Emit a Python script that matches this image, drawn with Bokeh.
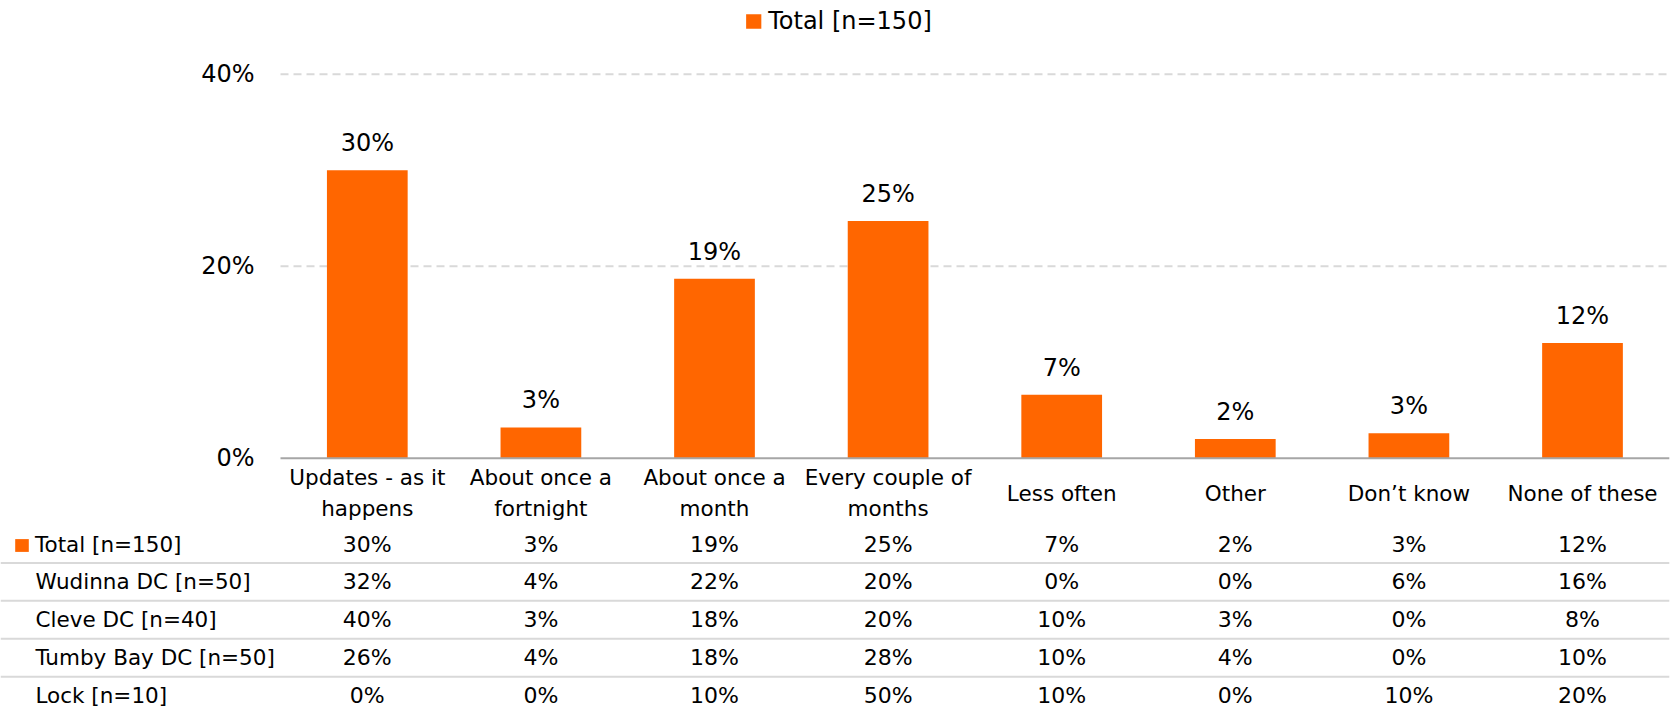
import numpy as np
from bokeh.plotting import figure
from bokeh.models import Range1d, ColumnDataSource, Legend, LegendItem
from bokeh.core.properties import value
from bokeh.embed import file_html
from bokeh.resources import INLINE

# ---------------- data ----------------
categories = ["Updates - as it happens", "About once a fortnight", "About once a month",
              "Every couple of months", "Less often", "Other", "Don’t know", "None of these"]
category_labels = ["Updates - as it\nhappens", "About once a\nfortnight", "About once a\nmonth",
                   "Every couple of\nmonths", "Less often", "Other", "Don’t know", "None of these"]
total_values = [30.0, 3.2, 18.7, 24.7, 6.6, 2.0, 2.6, 12.0]
series_names = ["Total [n=150]", "Wudinna DC [n=50]", "Cleve DC [n=40]",
                "Tumby Bay DC [n=50]", "Lock [n=10]"]
wudinna = [32, 4, 22, 20, 0, 0, 6, 16]
cleve = [40, 3, 18, 20, 10, 3, 0, 8]
tumby = [26, 4, 18, 28, 10, 4, 0, 10]
lock = [0, 0, 10, 50, 10, 0, 10, 20]
y_ticks = [0, 20, 40]
y_tick_labels = ["0%", "20%", "40%"]

# ---------------- layout ----------------
W, H = 1675, 709
CAT_PX = 173.6          # width of one category slot in px
LEFT_PX = 280           # plot area left offset inside the figure
X_START = -LEFT_PX / CAT_PX
X_END = X_START + W / CAT_PX
ZERO_PX = 457.7         # y of the 0% baseline inside the figure
PCT_PX = 9.6            # px per percentage point
Y_END = ZERO_PX / PCT_PX
Y_START = -(H - ZERO_PX) / PCT_PX
ROW0_PX = 543.5         # y of first table row
ROW_PX = 37.9           # table row pitch
TBL_START = (H - ROW0_PX) / ROW_PX
TBL_END = -ROW0_PX / ROW_PX

FONT_NAME = "DejaVu Sans"
FONT = value(FONT_NAME)
ORANGE = "#FF6600"
TXT = "#000000"

p = figure(width=W, height=H, x_range=Range1d(X_START, X_END), y_range=Range1d(Y_START, Y_END),
           x_axis_type=None, y_axis_type=None, output_backend="svg", toolbar_location=None,
           min_border=0, min_border_left=0, min_border_right=0, min_border_top=0, min_border_bottom=0)
p.outline_line_color = None
p.background_fill_color = "white"
p.border_fill_color = "white"
p.extra_y_ranges = {"tbl": Range1d(TBL_START, TBL_END)}

n = len(categories)
xs = np.arange(n) + 0.5
src = ColumnDataSource(dict(x=xs, top=total_values,
                            label=[f"{v:.0f}%" for v in total_values],
                            cat_label=category_labels))

# gridlines (dashed) at 20% and 40%
p.segment(x0=0, x1=n, y0=y_ticks[1:], y1=y_ticks[1:], line_color="#d9d9d9",
          line_width=2, line_dash="8 5")

bars = p.vbar(x="x", top="top", bottom=0, width=0.465, source=src,
              fill_color=ORANGE, line_color=None)

# baseline
p.segment(x0=0, x1=n, y0=0, y1=0, line_color="#a6a6a6", line_width=2)

# y tick labels
p.text(x=0, y=y_ticks, text=y_tick_labels, x_offset=-26, text_align="right",
       text_baseline="middle", text_font=FONT, text_font_size="24px", text_color=TXT)

# data labels
p.text(x="x", y="top", text="label", source=src, y_offset=-27, text_align="center",
       text_baseline="middle", text_font=FONT, text_font_size="24px", text_color=TXT)

# category labels
p.text(x="x", y=0, text="cat_label", source=src, y_offset=35, text_align="center",
       text_baseline="middle", text_font=FONT, text_font_size="21.5px", text_color=TXT,
       text_line_height=1.22)

# ---------------- table ----------------
rows = [[round(v) for v in total_values], wudinna, cleve, tumby, lock]
tx, ty, tt = [], [], []
for r, row in enumerate(rows):
    for i, v in enumerate(row):
        tx.append(xs[i])
        ty.append(r)
        tt.append(f"{v}%")
p.text(x=tx, y=ty, text=tt, y_range_name="tbl", text_align="center", text_baseline="middle",
       text_font=FONT, text_font_size="22px", text_color=TXT)

# row labels (first row is drawn by the legend key)
row_idx = list(range(1, len(series_names)))
p.text(x=X_START, y=row_idx, text=series_names[1:], x_offset=35, y_range_name="tbl",
       text_align="left", text_baseline="middle", text_font=FONT, text_font_size="21.5px",
       text_color=TXT)

# row separators
sep = [r + 0.5 for r in range(len(series_names) - 1)]
p.segment(x0=X_START, x1=n, y0=sep, y1=sep, y_range_name="tbl",
          line_color="#d9d9d9", line_width=2)

# ---------------- legends ----------------
top_legend = Legend(items=[LegendItem(label=series_names[0], renderers=[bars])],
                    location="top_center", orientation="horizontal",
                    label_text_font=FONT_NAME, label_text_font_size="24px", label_text_color=TXT,
                    glyph_width=19, glyph_height=18, label_standoff=6,
                    padding=0, margin=7, border_line_color=None, background_fill_alpha=0)
p.add_layout(top_legend)

tbl_legend = Legend(items=[LegendItem(label=series_names[0], renderers=[bars])],
                    location=(13, H - ROW0_PX - 13.5), orientation="horizontal",
                    label_text_font=FONT_NAME, label_text_font_size="21.5px", label_text_color=TXT,
                    glyph_width=17, glyph_height=16, label_standoff=5,
                    padding=0, margin=0, border_line_color=None, background_fill_alpha=0)
p.add_layout(tbl_legend)

open("out.html", "w").write(file_html(p, INLINE))
